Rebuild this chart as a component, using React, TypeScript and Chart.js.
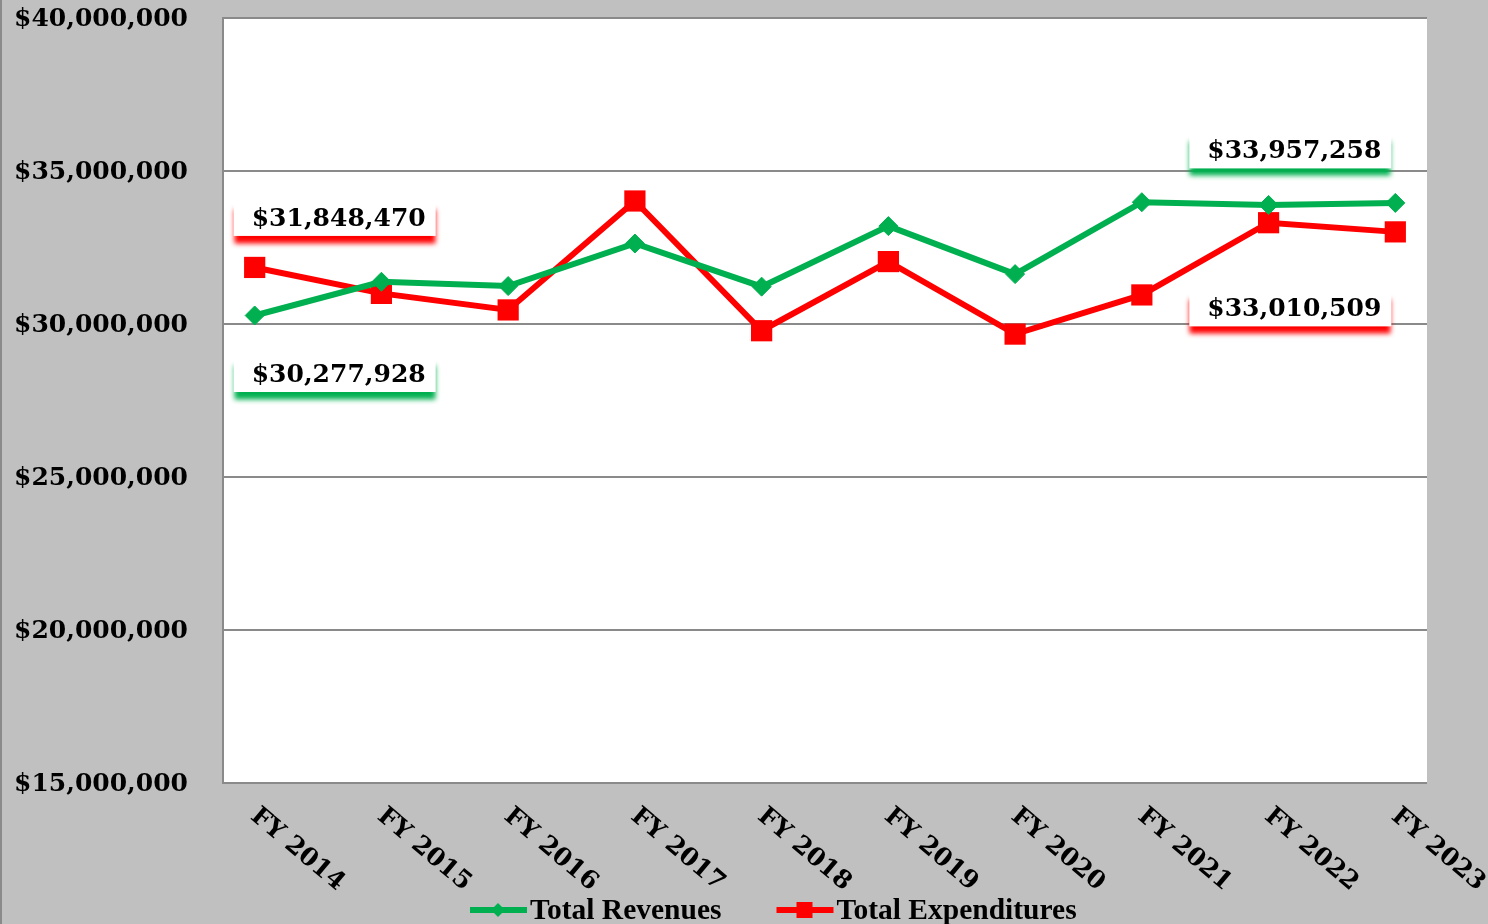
import React, { useEffect, useRef } from 'react';
import { Chart, registerables } from 'chart.js';

Chart.register(...registerables);

const categories = ['FY 2014', 'FY 2015', 'FY 2016', 'FY 2017', 'FY 2018', 'FY 2019', 'FY 2020', 'FY 2021', 'FY 2022', 'FY 2023'];
const revenues = [30277928, 31380000, 31240000, 32630000, 31220000, 33200000, 31630000, 33980000, 33890000, 33957258];
const expenditures = [31848470, 31000000, 30460000, 34020000, 29780000, 32040000, 29670000, 30950000, 33310000, 33010509];
const yTickValues = [15000000, 20000000, 25000000, 30000000, 35000000, 40000000];
const seriesNames = ['Total Revenues', 'Total Expenditures'];
const seriesColors = ['#00b050', '#ff0000'];

const FONT = '"DejaVu Serif", serif';
const LEGEND_FONT = '"Liberation Serif", serif';

const fmt = (v: number) => '$' + Math.round(v).toLocaleString('en-US');

// callout boxes: dataset index, point index, offset of box center from the point
const callouts = [
  { ds: 1, idx: 0, dx: 80, dy: -49 },
  { ds: 0, idx: 0, dx: 80, dy: 59 },
  { ds: 0, idx: 9, dx: -105, dy: -52 },
  { ds: 1, idx: 9, dx: -105, dy: 77 },
];

function drawText(ctx: CanvasRenderingContext2D, text: string, x: number, y: number, align: 'left' | 'center') {
  ctx.textAlign = align;
  ctx.textBaseline = 'middle';
  ctx.fillText(text, x, y);
}

const decorPlugin = {
  id: 'decor',
  beforeDraw(chart: any) {
    const { ctx, chartArea, width, height } = chart;
    ctx.save();
    ctx.fillStyle = '#c0c0c0';
    ctx.fillRect(0, 0, width, height);
    ctx.fillStyle = '#ffffff';
    ctx.fillRect(chartArea.left, chartArea.top, chartArea.right - chartArea.left, chartArea.bottom - chartArea.top);
    ctx.strokeStyle = '#8a8a8a';
    ctx.lineWidth = 2;
    ctx.beginPath();
    ctx.moveTo(1, 0);
    ctx.lineTo(1, height);
    ctx.stroke();
    ctx.restore();
  },
  afterDatasetsDraw(chart: any) {
    const { ctx } = chart;
    ctx.save();
    ctx.font = `bold 25px ${FONT}`;
    for (const c of callouts) {
      const meta = chart.getDatasetMeta(c.ds);
      const pt = meta.data[c.idx];
      const value = chart.data.datasets[c.ds].data[c.idx].y;
      const cx = pt.x + c.dx;
      const cy = pt.y + c.dy;
      const w = 202;
      const h = 35;
      ctx.save();
      ctx.shadowColor = seriesColors[c.ds];
      ctx.shadowOffsetY = 8;
      ctx.shadowBlur = 5;
      ctx.fillStyle = '#ffffff';
      ctx.fillRect(cx - w / 2, cy - h / 2, w, h);
      ctx.restore();
      ctx.fillStyle = '#000000';
      drawText(ctx, fmt(value), cx + 4, cy + 1, 'center');
    }
    ctx.restore();
  },
  afterDraw(chart: any) {
    const { ctx, chartArea } = chart;
    const xScale = chart.scales.x;
    const yScale = chart.scales.y;
    ctx.save();
    ctx.fillStyle = '#000000';
    // y tick labels
    ctx.font = `bold 25px ${FONT}`;
    yTickValues.forEach((v) => {
      drawText(ctx, fmt(v), 14, yScale.getPixelForValue(v) + 1, 'left');
    });
    // rotated category labels
    ctx.font = `bold 25px ${FONT}`;
    ctx.textAlign = 'left';
    ctx.textBaseline = 'middle';
    categories.forEach((lab, i) => {
      const x = xScale.getPixelForValue(i);
      ctx.save();
      ctx.translate(x - 1, chartArea.bottom + 30);
      ctx.rotate((40 * Math.PI) / 180);
      ctx.fillText(lab, 0, 0);
      ctx.restore();
    });
    // legend
    ctx.font = `bold 29.5px ${LEGEND_FONT}`;
    const ly = 910;
    let lx = 470;
    seriesNames.forEach((name, i) => {
      const col = seriesColors[i];
      ctx.strokeStyle = col;
      ctx.lineWidth = 6;
      ctx.beginPath();
      ctx.moveTo(lx, ly);
      ctx.lineTo(lx + 57, ly);
      ctx.stroke();
      ctx.fillStyle = col;
      const mx = lx + 28;
      if (i === 0) {
        ctx.beginPath();
        ctx.moveTo(mx, ly - 7);
        ctx.lineTo(mx + 7, ly);
        ctx.lineTo(mx, ly + 7);
        ctx.lineTo(mx - 7, ly);
        ctx.closePath();
        ctx.fill();
      } else {
        ctx.fillRect(mx - 8, ly - 8, 16, 16);
      }
      ctx.fillStyle = '#000000';
      ctx.textAlign = 'left';
      ctx.textBaseline = 'middle';
      ctx.fillText(name, lx + 60, ly + 1);
      lx += 60 + ctx.measureText(name).width + 55;
    });
    ctx.restore();
  },
};

export default function App() {
  const canvasRef = useRef<HTMLCanvasElement | null>(null);

  useEffect(() => {
    document.body.style.margin = '0';
    const canvas = canvasRef.current;
    if (!canvas) return;
    const chart = new Chart(canvas, {
      type: 'line',
      data: {
        datasets: [
          {
            label: seriesNames[0],
            data: revenues.map((v, i) => ({ x: i, y: v })),
            borderColor: seriesColors[0],
            backgroundColor: seriesColors[0],
            borderWidth: 6,
            pointStyle: 'rectRot',
            pointRadius: 9.5,
            pointBorderWidth: 1,
            tension: 0,
          },
          {
            label: seriesNames[1],
            data: expenditures.map((v, i) => ({ x: i, y: v })),
            borderColor: seriesColors[1],
            backgroundColor: seriesColors[1],
            borderWidth: 6,
            pointStyle: 'rect',
            pointRadius: 15,
            pointBorderWidth: 0,
            tension: 0,
          },
        ],
      },
      options: {
        animation: false,
        responsive: true,
        maintainAspectRatio: false,
        layout: { padding: { left: 14, top: 18, right: 61, bottom: 0 } },
        plugins: {
          legend: { display: false },
          tooltip: { enabled: false },
        },
        scales: {
          x: {
            type: 'linear',
            min: -0.25,
            max: 9.25,
            ticks: { display: false },
            grid: { display: false },
            border: { display: false },
            afterFit: (scale: any) => {
              scale.height = 141;
            },
          },
          y: {
            min: 15000000,
            max: 40000000,
            afterBuildTicks: (scale: any) => {
              scale.ticks = yTickValues.map((v) => ({ value: v }));
            },
            ticks: { display: false },
            grid: { color: '#8a8a8a', lineWidth: 2, drawTicks: false },
            border: { display: true, color: '#8a8a8a', width: 2 },
            afterFit: (scale: any) => {
              scale.width = 209;
            },
          },
        },
      },
      plugins: [decorPlugin],
    });
    return () => chart.destroy();
  }, []);

  return (
    <div style={{ position: 'fixed', left: 0, top: 0, width: 1488, height: 924 }}>
      <canvas ref={canvasRef} />
    </div>
  );
}
